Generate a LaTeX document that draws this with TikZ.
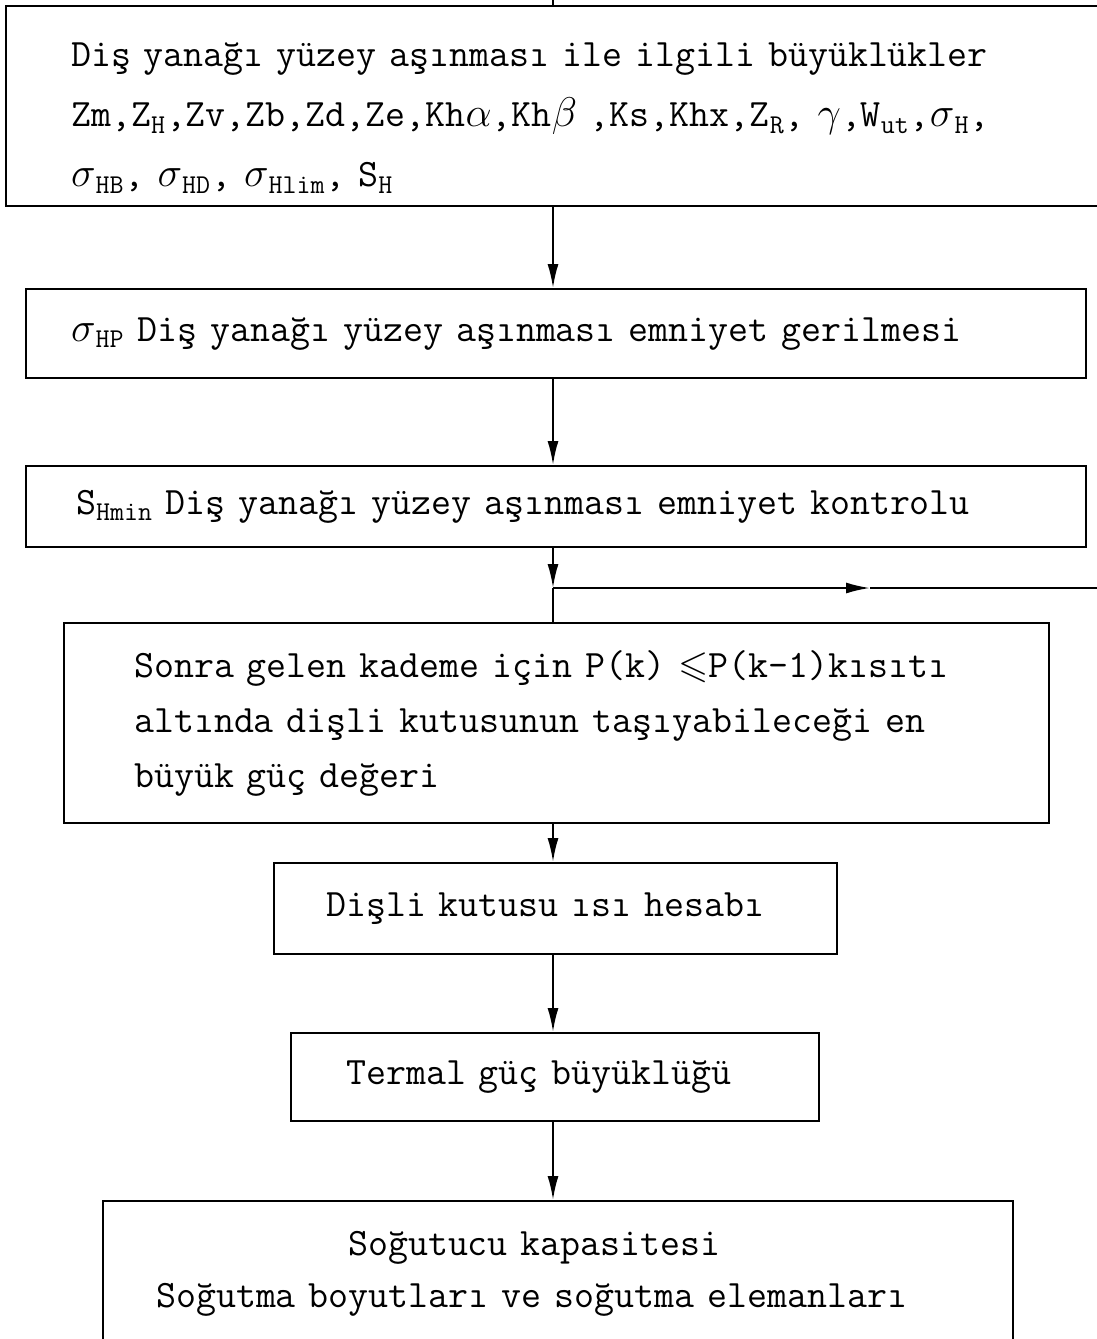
\documentclass[tikz,border=0pt]{standalone}
\usepackage{amsmath,amssymb}
\usepackage{fontspec}
\usetikzlibrary{arrows.meta}

\begin{document}
\begin{tikzpicture}[x=0.5pt,y=-0.5pt,>={Latex[length=12pt,width=5.5pt]},
  box/.style={draw,line width=1.1pt,rectangle,anchor=north west,align=left,inner ysep=0pt},
  leading/.style={font=\ttfamily\fontsize{19.4}{#1}\selectfont},
  flow/.style={line width=1pt}]
\useasboundingbox (0,0) rectangle (1097,1339);
\coordinate (top) at (553,0);
% boxes, top to bottom
\node[box,leading=30pt,minimum width=580pt,minimum height=100pt,inner xsep=32.5pt,text width=515pt] (qty) at (5,5)
  {\mbox{\rule{0pt}{24pt}Diş yanağı yüzey aşınması ile ilgili büyüklükler}\\
   \mbox{Zm,Z\textsubscript{H},Zv,Zb,Zd,Ze,Kh$\alpha$,Kh$\beta$ ,Ks,Khx,Z\textsubscript{R}, $\gamma$,W\textsubscript{ut},$\sigma$\textsubscript{H},}\\
   \mbox{$\sigma$\textsubscript{HB}, $\sigma$\textsubscript{HD}, $\sigma$\textsubscript{Hlim}, S\textsubscript{H}}};
\node[box,leading=27.5pt,minimum width=530pt,minimum height=44.5pt,inner xsep=22.5pt,text width=485pt] (stress) at (25,288)
  {\mbox{$\sigma$\textsubscript{HP} Diş yanağı yüzey aşınması emniyet gerilmesi}};
\node[box,leading=27.5pt,minimum width=530pt,minimum height=40.5pt,inner xsep=25pt,text width=480pt] (check) at (25,465)
  {\mbox{S\textsubscript{Hmin} Diş yanağı yüzey aşınması emniyet kontrolu}};
\node[box,leading=27.5pt,minimum width=492.5pt,minimum height=100pt,inner xsep=35pt,text width=422.5pt] (power) at (63,622)
  {\mbox{Sonra gelen kademe için P(k) $\leqslant$P(k-1)kısıtı}\\
   \mbox{altında dişli kutusunun taşıyabileceği en}\\
   \mbox{büyük güç değeri}};
\node[box,leading=27.5pt,minimum width=281.5pt,minimum height=45.5pt,inner xsep=26pt,text width=229.5pt] (heat) at (273,862)
  {\mbox{Dişli kutusu ısı hesabı}};
\node[box,leading=27.5pt,minimum width=264pt,minimum height=44pt,inner xsep=27.5pt,text width=209pt] (thermal) at (290,1032)
  {\mbox{Termal güç büyüklüğü}};
\node[box,leading=26pt,minimum width=455pt,minimum height=72.5pt,inner xsep=26.5pt,text width=402pt] (cooling) at (102,1200)
  {\mbox{\hspace*{96pt}Soğutucu kapasitesi}\\
   \mbox{Soğutma boyutları ve soğutma elemanları}};
% connectors
\coordinate (split) at (553,588);
\coordinate (tip) at (870,588);
\coordinate (exit) at (1100,588);
\draw[flow] (top) -- (top |- qty.north);
\draw[flow,->] (top |- qty.south) -- (top |- stress.north);
\draw[flow,->] (top |- stress.south) -- (top |- check.north);
\draw[flow,->] (top |- check.south) -- (split);
\draw[flow] (split) -- (top |- power.north);
\draw[flow,->] (split) -- (tip);
\draw[flow] (tip) -- (exit);
\draw[flow,->] (top |- power.south) -- (top |- heat.north);
\draw[flow,->] (top |- heat.south) -- (top |- thermal.north);
\draw[flow,->] (top |- thermal.south) -- (top |- cooling.north);
\end{tikzpicture}
\end{document}
